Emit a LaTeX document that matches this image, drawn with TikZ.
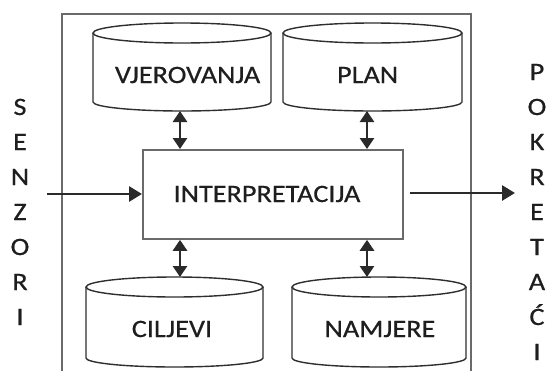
\documentclass[tikz,border=0pt]{standalone}
\usepackage{fontspec}
\setmainfont{Carlito}[FakeStretch=1.13,FakeBold=0.6]
\usetikzlibrary{arrows.meta,calc}
\definecolor{txt}{HTML}{1E1E1E}
\definecolor{frame}{HTML}{6A6A6A}
\definecolor{cyl}{HTML}{2E2E2E}
\definecolor{arrc}{HTML}{2A2A2A}
\tikzset{
  lbl/.style={font=\fontsize{25}{30}\selectfont, inner sep=0pt, text=txt, anchor=base},
  cylline/.style={draw=cyl, line width=1.4pt},
  framebox/.style={draw=frame, line width=1.8pt},
  dbl/.style={draw=arrc, line width=2.8pt, {Triangle[length=11pt,width=14pt]}-{Triangle[length=11pt,width=14pt]}},
  arr/.style={draw=arrc, line width=2.8pt, -{Triangle[length=13pt,width=15pt]}}
}
\newcommand\drawcyl[7]{%
  \pgfmathsetmacro\cylcx{(#2+#4)/2}%
  \pgfmathsetmacro\cylrx{(#4-#2)/2}%
  \draw[cylline] (\cylcx,-#3-10) ellipse [x radius=\cylrx, y radius=10];
  \draw[cylline] (#2,-#3-10) -- (#2,-#5+9) arc [start angle=180, end angle=360, x radius=\cylrx, y radius=9] -- (#4,-#3-10);
  \node[lbl] (#1) at (#6,-#3-60) {#7};
}
\begin{document}
\begin{tikzpicture}[x=1pt,y=1pt]
\useasboundingbox (0,0) rectangle (546,-370);
% outer frame (bottom edge outside the picture)
\draw[framebox] (62,-372) -- (62,-14) -- (471,-14) -- (471,-372);
% cylinders
\drawcyl{vj}{93}{23}{271}{111}{187.6}{VJEROVANJA}
\drawcyl{pl}{283}{23}{462}{111}{367.6}{PLAN}
\drawcyl{ci}{86}{277}{263}{367}{172}{CILJEVI}
\drawcyl{na}{292}{277}{466}{367}{380}{NAMJERE}
% central box
\node[framebox, minimum width=260, minimum height=89, anchor=north west, inner sep=0pt] (box) at (142,-149) {};
\node[lbl] (interp) at (267,-202) {INTERPRETACIJA};
% connector end points
\coordinate (vjb) at (180,-111);
\coordinate (plb) at (367,-111);
\coordinate (cit) at (180,-277);
\coordinate (nat) at (367,-277);
\coordinate (sin) at (47,-194);
\coordinate (aout) at (515,-193);
\draw[dbl] (vjb) -- (vjb |- box.north);
\draw[dbl] (plb) -- (plb |- box.north);
\draw[dbl] (cit |- box.south) -- (cit);
\draw[dbl] (nat |- box.south) -- (nat);
\draw[arr] (sin) -- (sin -| box.west);
\draw[arr] ($(box.east |- aout)+(6,0)$) -- (aout);
% vertical labels
\foreach \l [count=\i] in {S,E,N,Z,O,R,I}
  \node[lbl] (sen\i) at (20,{-115-35*(\i-1)}) {\l};
\foreach \l [count=\i] in {P,O,K,R,E,T,A,Ć,I}
  \node[lbl] (pok\i) at (537,{-80-35*(\i-1)}) {\l};
\end{tikzpicture}
\end{document}
